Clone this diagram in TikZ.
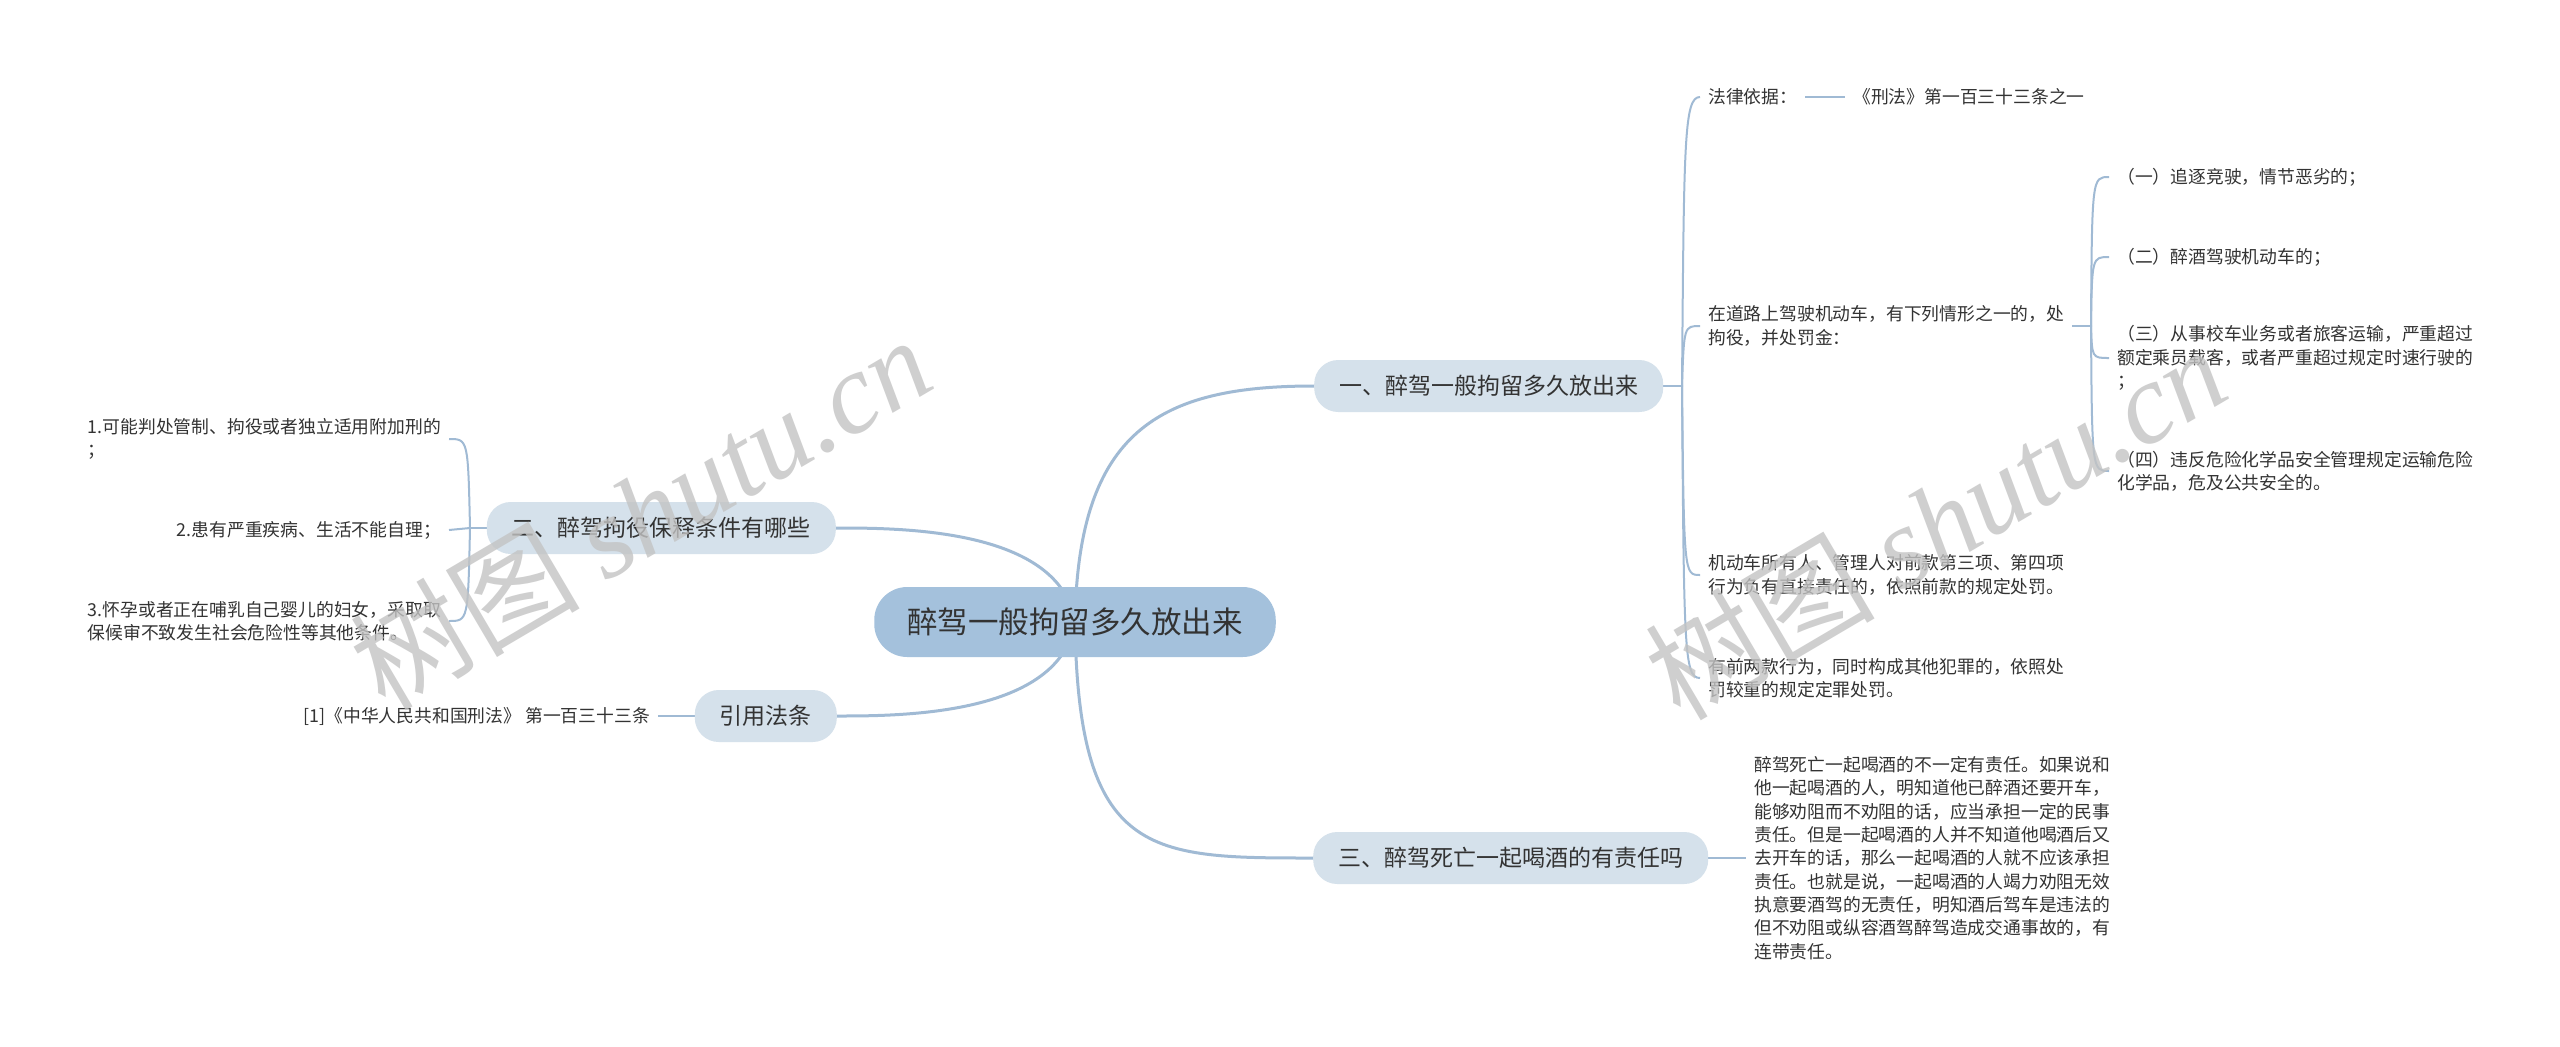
\documentclass[tikz,border=0pt]{standalone}
\usepackage{fontspec}
\setmainfont{Noto Sans CJK SC}
\newfontfamily\wmlatin{Liberation Serif}
\usetikzlibrary{backgrounds}
\definecolor{lnc}{RGB}{160,186,212}
\definecolor{rootc}{RGB}{164,193,220}
\definecolor{brc}{RGB}{213,225,235}
\definecolor{txc}{RGB}{51,51,51}
\definecolor{wmc}{RGB}{195,195,195}
\tikzset{
  rootbox/.style={rounded corners=33pt, fill=rootc, minimum height=70pt, inner xsep=33pt,
    font=\fontsize{30.5}{36}\selectfont, text=txc},
  brbox/.style={rounded corners=24pt, fill=brc, minimum height=52pt, inner xsep=25pt,
    font=\fontsize{23}{28}\selectfont, text=txc},
  leaf/.style={font=\fontsize{17.8}{23.3}\selectfont, text=txc, align=left, inner xsep=8pt, inner ysep=4pt},
  mainline/.style={draw=lnc, line width=3pt},
  subline/.style={draw=lnc, line width=2pt},
  wm/.style={text=wmc, font=\fontsize{115}{120}\selectfont, text opacity=0.8}
}
\begin{document}
\begin{tikzpicture}[x=1pt,y=-1pt]
\useasboundingbox (0,0) rectangle (2560,1047);
% main nodes
\node[rootbox] (root) at (1075,622) {醉驾一般拘留多久放出来};
\node[brbox, anchor=west] (b1) at (1314,386) {一、醉驾一般拘留多久放出来};
\node[brbox, anchor=east] (b2) at (836,528) {二、醉驾拘役保释条件有哪些};
\node[brbox, anchor=east] (b3) at (837,716) {引用法条};
\node[brbox, anchor=west] (b4) at (1313,858) {三、醉驾死亡一起喝酒的有责任吗};
% branch 1 leaves
\node[leaf, anchor=west] (l1) at (1700,97) {法律依据：};
\node[leaf, anchor=west] (l1a) at (1845,97) {《刑法》第一百三十三条之一};
\node[leaf, anchor=west] (l2) at (1700,326) {在道路上驾驶机动车，有下列情形之一的，处\\拘役，并处罚金：};
\node[leaf, anchor=west] (s1) at (2109,177) {（一）追逐竞驶，情节恶劣的；};
\node[leaf, anchor=west] (s2) at (2109,257) {（二）醉酒驾驶机动车的；};
\node[leaf, anchor=west] (s3) at (2109,358) {（三）从事校车业务或者旅客运输，严重超过\\额定乘员载客，或者严重超过规定时速行驶的\\；};
\node[leaf, anchor=west] (s4) at (2109,471) {（四）违反危险化学品安全管理规定运输危险\\化学品，危及公共安全的。};
\node[leaf, anchor=west] (l3) at (1700,575) {机动车所有人、管理人对前款第三项、第四项\\行为负有直接责任的，依照前款的规定处罚。};
\node[leaf, anchor=west] (l4) at (1700,678) {有前两款行为，同时构成其他犯罪的，依照处\\罚较重的规定定罪处罚。};
% branch 4 leaf
\node[leaf, anchor=west] (l5) at (1746,858) {醉驾死亡一起喝酒的不一定有责任。如果说和\\他一起喝酒的人，明知道他已醉酒还要开车，\\能够劝阻而不劝阻的话，应当承担一定的民事\\责任。但是一起喝酒的人并不知道他喝酒后又\\去开车的话，那么一起喝酒的人就不应该承担\\责任。也就是说，一起喝酒的人竭力劝阻无效\\执意要酒驾的无责任，明知酒后驾车是违法的\\但不劝阻或纵容酒驾醉驾造成交通事故的，有\\连带责任。};
% branch 2 leaves
\node[leaf, anchor=east] (k1) at (449,439) {1.可能判处管制、拘役或者独立适用附加刑的\\；};
\node[leaf, anchor=east] (k2) at (449,530) {2.患有严重疾病、生活不能自理；};
\node[leaf, anchor=east] (k3) at (449,621) {3.怀孕或者正在哺乳自己婴儿的妇女，采取取\\保候审不致发生社会危险性等其他条件。};
% branch 3 leaf
\node[leaf, anchor=east] (r1) at (658,716) {[1]《中华人民共和国刑法》 第一百三十三条};
% junctions
\coordinate (j1) at (1682,386);
\coordinate (j2) at (470,528);
\coordinate (j3) at (2091,326);
\begin{pgfonlayer}{background}
\fill[white] (0,0) rectangle (2560,1047);
% main curves
\draw[mainline] (root.center) .. controls (1078,430) and (1160,386) .. (b1.west);
\draw[mainline] (root.center) .. controls (1060,528) and (900,528) .. (b2.east);
\draw[mainline] (root.center) .. controls (1060,716) and (900,716) .. (b3.east);
\draw[mainline] (root.center) .. controls (1078,858) and (1150,858) .. (b4.west);
% branch 1
\draw[subline] (b1.east) -- (j1);
\draw[subline] (j1) .. controls (1684,140) and (1684,97) .. (l1.west);
\draw[subline] (j1) .. controls (1684,326) and (1684,326) .. (l2.west);
\draw[subline] (j1) .. controls (1684,575) and (1684,575) .. (l3.west);
\draw[subline] (j1) .. controls (1684,650) and (1684,678) .. (l4.west);
\draw[subline] (l1.east) -- (l1a.west);
\draw[subline] (l2.east) -- (j3);
\draw[subline] (j3) .. controls (2092,177) and (2092,177) .. (s1.west);
\draw[subline] (j3) .. controls (2092,257) and (2092,257) .. (s2.west);
\draw[subline] (j3) .. controls (2092,358) and (2092,358) .. (s3.west);
\draw[subline] (j3) .. controls (2092,471) and (2092,471) .. (s4.west);
% branch 2
\draw[subline] (b2.west) -- (j2);
\draw[subline] (j2) .. controls (468,439) and (468,439) .. (k1.east);
\draw[subline] (j2) -- (k2.east);
\draw[subline] (j2) .. controls (468,621) and (468,621) .. (k3.east);
% branch 3 and 4
\draw[subline] (b3.west) -- (r1.east);
\draw[subline] (b4.east) -- (l5.west);
\end{pgfonlayer}
% watermarks
\node[wm, rotate=30.5] (wm1) at (640,512) {树图 {\wmlatin\itshape shutu.cn}};
\node[wm, rotate=30.5] (wm2) at (1935,522) {树图 {\wmlatin\itshape shutu.cn}};
\end{tikzpicture}
\end{document}
